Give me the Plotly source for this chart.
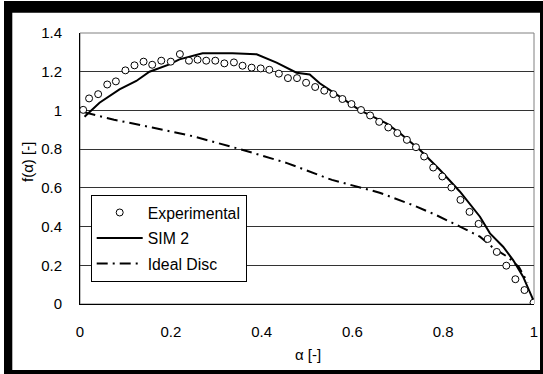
import plotly.graph_objects as go

# Experimental data
exp_x = [0.007, 0.02, 0.04, 0.06, 0.079, 0.10, 0.12, 0.14, 0.159, 0.179, 0.20, 0.22, 0.24,
         0.259, 0.278, 0.298, 0.318, 0.339, 0.358, 0.378, 0.398, 0.417, 0.438, 0.458, 0.478,
         0.498, 0.518, 0.538, 0.558, 0.578, 0.598, 0.619, 0.639, 0.659, 0.679, 0.699, 0.72,
         0.74, 0.758, 0.778, 0.798, 0.818, 0.838, 0.858, 0.878, 0.898, 0.918, 0.939, 0.959,
         0.979, 0.999]
exp_y = [1.003, 1.062, 1.084, 1.134, 1.15, 1.207, 1.233, 1.252, 1.236, 1.257, 1.252, 1.291, 1.257,
         1.262, 1.257, 1.257, 1.243, 1.248, 1.231, 1.221, 1.217, 1.21, 1.19, 1.167, 1.167,
         1.143, 1.121, 1.102, 1.084, 1.059, 1.033, 1.002, 0.974, 0.941, 0.912, 0.883, 0.848,
         0.81, 0.762, 0.705, 0.659, 0.602, 0.538, 0.476, 0.414, 0.336, 0.269, 0.198, 0.128,
         0.072, 0.007]

# SIM 2 model
sim_x = [0.01, 0.043, 0.087, 0.124, 0.153, 0.197, 0.219, 0.27, 0.336, 0.389, 0.433, 0.477,
         0.506, 0.528, 0.572, 0.616, 0.675, 0.705, 0.749, 0.793, 0.837, 0.881, 0.903, 0.932,
         0.954, 0.976, 1.0]
sim_y = [0.967, 1.04, 1.109, 1.152, 1.2, 1.238, 1.264, 1.295, 1.295, 1.29, 1.247, 1.195,
         1.186, 1.14, 1.071, 1.002, 0.933, 0.882, 0.795, 0.692, 0.58, 0.451, 0.365, 0.296,
         0.227, 0.141, 0.012]

# Ideal Disc model
disc_x = [0.01, 0.075, 0.159, 0.25, 0.357, 0.456, 0.555, 0.632, 0.66, 0.733, 0.784, 0.837,
          0.881, 0.91, 0.944, 0.967, 0.986]
disc_y = [0.99, 0.952, 0.912, 0.866, 0.797, 0.728, 0.641, 0.59, 0.575, 0.511, 0.46, 0.4,
          0.348, 0.29, 0.24, 0.19, 0.11]

x_ticks = [0, 0.2, 0.4, 0.6, 0.8, 1]
x_tick_text = ["0", "0.2", "0.4", "0.6", "0.8", "1"]
y_ticks = [0, 0.2, 0.4, 0.6, 0.8, 1, 1.2, 1.4]
y_tick_text = ["0", "0.2", "0.4", "0.6", "0.8", "1", "1.2", "1.4"]

FONT = "Liberation Sans, Arial, sans-serif"
W, H = 543, 374
L, R, T, B = 80, 9, 33, 70
PW, PH = W - L - R, H - T - B


def px2paper(x, y):
    return (x - L) / PW, (H - B - y) / PH


fig = go.Figure()
fig.add_trace(go.Scatter(x=disc_x, y=disc_y, mode="lines", name="Ideal Disc",
                         line=dict(color="black", width=2, dash="11px,5px,2px,5px"),
                         legendgroup="c", legendrank=3))
fig.add_trace(go.Scatter(x=sim_x, y=sim_y, mode="lines", name="SIM 2",
                         line=dict(color="black", width=2),
                         legendgroup="b", legendrank=2))
fig.add_trace(go.Scatter(x=exp_x, y=exp_y, mode="markers", name="Experimental",
                         marker=dict(symbol="circle", size=7, color="white",
                                     line=dict(color="black", width=1)),
                         legendgroup="a", legendrank=1))

# black frame
shapes = []
for (x0, y0, x1, y1) in [(4, 1, 543, 12.7), (4, 1, 12.3, 374), (540, 1, 543, 374), (4, 370, 543, 374)]:
    a0, b0 = px2paper(x0, y0)
    a1, b1 = px2paper(x1, y1)
    shapes.append(dict(type="rect", xref="paper", yref="paper", x0=a0, y0=b1, x1=a1, y1=b0,
                       fillcolor="black", line=dict(width=0), layer="above"))
# plot area border (grey top/right)
shapes.append(dict(type="rect", xref="paper", yref="paper", x0=0, y0=0, x1=1, y1=1,
                   line=dict(color="#808080", width=1), fillcolor="rgba(0,0,0,0)", layer="below"))

ax0, ay0 = px2paper(308, 355)
bx0, by0 = px2paper(27, 162)
annotations = [
    dict(text="α [-]", xref="paper", yref="paper", x=ax0, y=ay0, showarrow=False,
         font=dict(family=FONT, size=15, color="black"), xanchor="center", yanchor="middle"),
    dict(text="f(α) [-]", xref="paper", yref="paper", x=bx0, y=by0, showarrow=False, textangle=-90,
         font=dict(family=FONT, size=15, color="black"), xanchor="center", yanchor="middle"),
]

lx, ly = px2paper(90.7, 194.7)
fig.update_layout(
    width=W, height=H,
    margin=dict(l=L, r=R, t=T, b=B, pad=0, autoexpand=False),
    paper_bgcolor="white", plot_bgcolor="white",
    font=dict(family=FONT, size=15, color="black"),
    showlegend=True,
    legend=dict(x=lx, y=ly, xanchor="left", yanchor="top", bgcolor="white",
                bordercolor="black", borderwidth=1, tracegroupgap=2,
                font=dict(family=FONT, size=15.8, color="black"), itemwidth=46),
    shapes=shapes,
    annotations=annotations,
    xaxis=dict(range=[0, 1], tickvals=x_ticks, ticktext=x_tick_text, showgrid=False,
               zeroline=False, showline=True, linecolor="black", linewidth=1, automargin=False,
               ticks="", ticklabelstandoff=14, fixedrange=True),
    yaxis=dict(range=[0, 1.4], tickvals=y_ticks, ticktext=y_tick_text, showgrid=True,
               gridcolor="#333333", gridwidth=1, zeroline=False, showline=True, automargin=False,
               linecolor="black", linewidth=1, ticks="", ticklabelstandoff=14, fixedrange=True),
)
fig.write_html("out.html")
